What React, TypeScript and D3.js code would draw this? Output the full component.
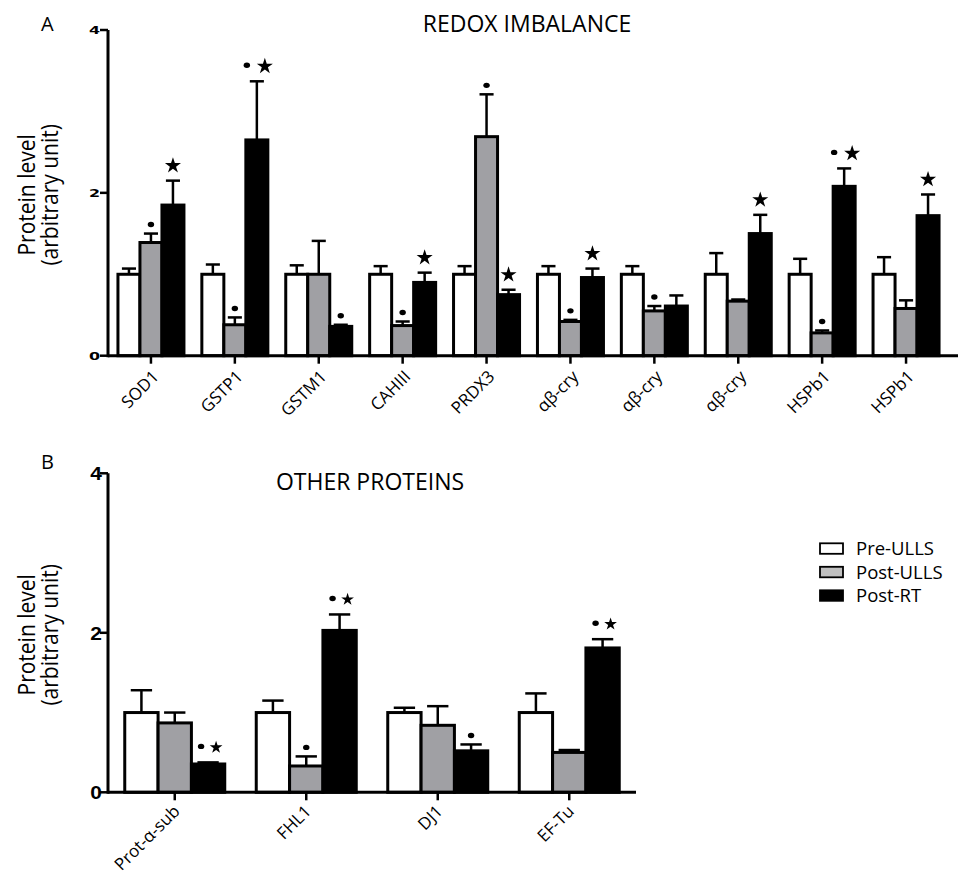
import React, { useEffect, useRef } from 'react';
import * as d3 from 'd3';

// panel A - redox imbalance
const catsA = ['SOD1', 'GSTP1', 'GSTM1', 'CAHIII', 'PRDX3', 'αβ-cry', 'αβ-cry', 'αβ-cry', 'HSPb1', 'HSPb1'];
const preA = [1.0, 1.0, 1.0, 1.0, 1.0, 1.0, 1.0, 1.0, 1.0, 1.0];
const preErrA = [0.07, 0.12, 0.11, 0.10, 0.10, 0.10, 0.10, 0.26, 0.19, 0.21];
const ullsA = [1.39, 0.38, 1.0, 0.37, 2.69, 0.42, 0.55, 0.67, 0.28, 0.58];
const ullsErrA = [0.11, 0.09, 0.41, 0.05, 0.52, 0.02, 0.06, 0.02, 0.03, 0.10];
const rtA = [1.85, 2.65, 0.36, 0.90, 0.75, 0.96, 0.61, 1.50, 2.08, 1.72];
const rtErrA = [0.30, 0.72, 0.02, 0.12, 0.06, 0.11, 0.13, 0.23, 0.22, 0.26];
// d = dot (vs Pre-ULLS), s = star (vs Post-ULLS)
const ullsSigA = ['d', 'd', '', 'd', 'd', 'd', 'd', '', 'd', ''];
const rtSigA = ['s', 'ds', 'd', 's', 's', 's', '', 's', 'ds', 's'];

// panel B - other proteins
const catsB = ['Prot-α-sub', 'FHL1', 'DJ1', 'EF-Tu'];
const preB = [1.0, 1.0, 1.0, 1.0];
const preErrB = [0.28, 0.15, 0.06, 0.24];
const ullsB = [0.87, 0.33, 0.84, 0.5];
const ullsErrB = [0.13, 0.12, 0.24, 0.03];
const rtB = [0.355, 2.03, 0.52, 1.81];
const rtErrB = [0.02, 0.2, 0.08, 0.11];
const ullsSigB = ['', 'd', '', ''];
const rtSigB = ['ds', 'ds', 'd', 'ds'];

const yTicks = [0, 2, 4];
const groups = ['Pre-ULLS', 'Post-ULLS', 'Post-RT'];
const fills = ['#ffffff', '#a0a0a4', '#000000'];
const legendFills = ['#ffffff', '#c0c0c0', '#000000'];

const font = "'Open Sans', sans-serif";

function drawPanel(svg, p) {
  const g = svg.append('g');
  const y = d3.scaleLinear().domain([0, 4]).range([p.y0, p.y1]);
  const x = d3.scaleBand().domain(p.cats.map((_, i) => i)).range([p.x0, p.x1]);
  const inner = d3.scaleBand().domain([0, 1, 2]).range([-p.gw / 2, p.gw / 2]);
  const bw = inner.bandwidth();

  const series = [
    { v: p.pre, e: p.preErr, sig: null },
    { v: p.ulls, e: p.ullsErr, sig: p.ullsSig },
    { v: p.rt, e: p.rtErr, sig: p.rtSig },
  ];

  series.forEach((s, k) => {
    const cx = (i) => x(i) + x.bandwidth() / 2 + inner(k);
    // error bars (upper only)
    g.selectAll(null).data(s.v).enter().append('line')
      .attr('x1', (_, i) => cx(i) + bw / 2).attr('x2', (_, i) => cx(i) + bw / 2)
      .attr('y1', (d) => y(d)).attr('y2', (d, i) => y(d + s.e[i]))
      .attr('stroke', '#000').attr('stroke-width', 2.5);
    g.selectAll(null).data(s.v).enter().append('line')
      .attr('x1', (_, i) => cx(i) + bw / 2 - bw * 0.32).attr('x2', (_, i) => cx(i) + bw / 2 + bw * 0.32)
      .attr('y1', (d, i) => y(d + s.e[i])).attr('y2', (d, i) => y(d + s.e[i]))
      .attr('stroke', '#000').attr('stroke-width', 2.5);
    g.selectAll(null).data(s.v).enter().append('rect')
      .attr('x', (_, i) => cx(i)).attr('width', bw)
      .attr('y', (d) => y(d)).attr('height', (d) => y(0) - y(d))
      .attr('fill', fills[k]).attr('stroke', '#000').attr('stroke-width', 3);

    if (s.sig) {
      s.sig.forEach((m, i) => {
        if (!m) return;
        const mx = cx(i) + bw / 2;
        const my = y(s.v[i] + s.e[i]);
        const both = m === 'ds';
        if (m.includes('d')) {
          g.append('ellipse')
            .attr('cx', both ? mx - p.pairGap[0] : mx).attr('cy', my - (both ? 16 : 9))
            .attr('rx', 3.2).attr('ry', 2.7).attr('fill', '#000');
        }
        if (m.includes('s')) {
          g.append('path')
            .attr('d', d3.symbol(d3.symbolStar, p.starSize)())
            .attr('transform', `translate(${both ? mx + p.pairGap[1] : mx},${my - 15})`)
            .attr('fill', '#000');
        }
      });
    }
  });

  // axes
  g.append('line').attr('x1', p.x0 - 1).attr('x2', p.axisEnd)
    .attr('y1', y(0)).attr('y2', y(0)).attr('stroke', '#000').attr('stroke-width', 3);
  g.append('line').attr('x1', p.x0 - 1).attr('x2', p.x0 - 1)
    .attr('y1', y(0) + 1.5).attr('y2', y(4)).attr('stroke', '#000').attr('stroke-width', 3);

  yTicks.forEach((t) => {
    g.append('line').attr('x1', p.x0 - 9).attr('x2', p.x0 - 1)
      .attr('y1', y(t)).attr('y2', y(t)).attr('stroke', '#000').attr('stroke-width', 2.5);
    const tx = g.append('text').text(t)
      .attr('text-anchor', 'end').attr('font-weight', 'bold').attr('fill', '#000');
    if (p.wideTicks) {
      tx.attr('font-family', "'DejaVu Sans', sans-serif").attr('font-size', 11)
        .attr('transform', `translate(${p.x0 - 9},${y(t) + 4}) scale(1.45,1)`);
    } else {
      tx.attr('font-family', "'Liberation Sans', Arial, sans-serif").attr('font-size', 19)
        .attr('transform', `translate(${p.x0 - 7},${y(t) + 7}) scale(1.1,1)`);
    }
  });

  p.cats.forEach((c, i) => {
    const tx = x(i) + x.bandwidth() / 2;
    g.append('line').attr('x1', tx).attr('x2', tx).attr('y1', y(0)).attr('y2', y(0) + 8)
      .attr('stroke', '#000').attr('stroke-width', 2.5);
    g.append('text').text(c)
      .attr('transform', `translate(${tx + p.labelDx},${y(0) + p.labelDy}) rotate(-45)`)
      .attr('text-anchor', 'end').attr('font-family', font).attr('font-size', p.labelSize)
      .attr('fill', '#000');
  });

  const my = (y(0) + y(4)) / 2;
  g.append('text').attr('transform', `translate(35,${my + 2}) scale(1.12,1) rotate(-90)`)
    .attr('text-anchor', 'middle').attr('font-family', font).attr('font-size', 21)
    .text('Protein level');
  g.append('text').attr('transform', `translate(58,${my + 2}) scale(1.12,1) rotate(-90)`)
    .attr('text-anchor', 'middle').attr('font-family', font).attr('font-size', 21)
    .text('(arbitrary unit)');

  g.append('text').attr('x', p.titleX).attr('y', p.titleY).attr('text-anchor', 'middle')
    .attr('font-family', font).attr('font-size', 23).text(p.title);
  g.append('text').attr('x', 41).attr('y', p.letterY)
    .attr('font-family', font).attr('font-size', 20).text(p.letter);
}

export default function App() {
  const ref = useRef(null);

  useEffect(() => {
    const svg = d3.select(ref.current);
    svg.selectAll('*').remove();

    drawPanel(svg, {
      cats: catsA, pre: preA, preErr: preErrA, ulls: ullsA, ullsErr: ullsErrA,
      rt: rtA, rtErr: rtErrA, ullsSig: ullsSigA, rtSig: rtSigA,
      y0: 355.7, y1: 30, x0: 109, x1: 948, gw: 66, axisEnd: 958,
      wideTicks: true, labelSize: 17, labelDx: 9, labelDy: 22,
      starSize: 80, pairGap: [10, 8],
      title: 'REDOX IMBALANCE', titleX: 527, titleY: 32, letter: 'A', letterY: 31,
    });
    drawPanel(svg, {
      cats: catsB, pre: preB, preErr: preErrB, ulls: ullsB, ullsErr: ullsErrB,
      rt: rtB, rtErr: rtErrB, ullsSig: ullsSigB, rtSig: rtSigB,
      y0: 792.3, y1: 473.3, x0: 109, x1: 635, gw: 100, axisEnd: 636,
      wideTicks: false, labelSize: 17, labelDx: 6, labelDy: 20,
      starSize: 50, pairGap: [7, 8],
      title: 'OTHER PROTEINS', titleX: 370, titleY: 490, letter: 'B', letterY: 469,
    });

    const leg = svg.append('g');
    groups.forEach((name, k) => {
      const ly = 548.3 + k * 23.5;
      leg.append('rect').attr('x', 820).attr('y', ly - 5).attr('width', 23).attr('height', 10.5)
        .attr('fill', legendFills[k]).attr('stroke', '#000').attr('stroke-width', 1.8);
      leg.append('text').attr('x', 856).attr('y', ly + 7).attr('font-family', font)
        .attr('font-size', 18.5).text(name);
    });
  }, []);

  return <svg ref={ref} width={958} height={884} style={{ position: 'absolute', left: 0, top: 0, background: '#fff' }} />;
}
